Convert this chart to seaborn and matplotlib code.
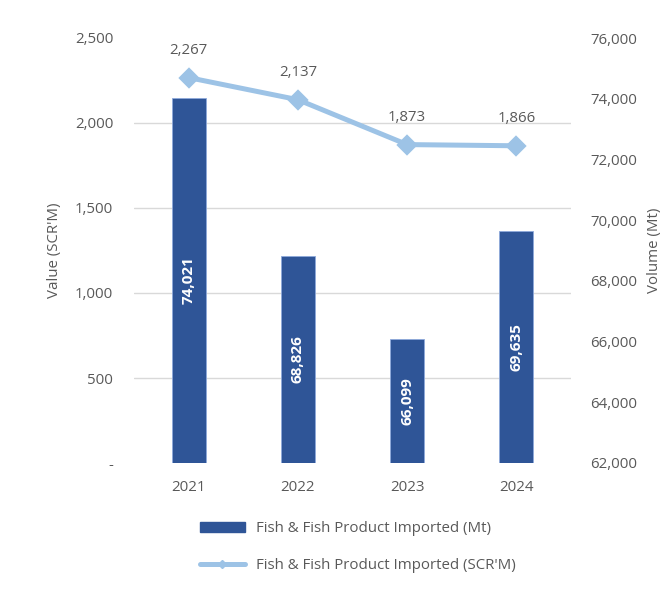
import numpy as np
import matplotlib
matplotlib.use("Agg")
import matplotlib.pyplot as plt
from matplotlib.lines import Line2D
from matplotlib.ticker import FuncFormatter
import seaborn as sns

# Data
years = ["2021", "2022", "2023", "2024"]
volume_mt = [74021, 68826, 66099, 69635]
value_scr = [2267, 2137, 1873, 1866]

bar_color = "#2F5597"
line_color = "#9DC3E6"
text_color = "#595959"
grid_color = "#D9D9D9"

sns.set_style("white")
plt.rcParams["font.family"] = ["Open Sans", "DejaVu Sans"]
plt.rcParams["font.size"] = 10.8

fig = plt.figure(figsize=(6.68, 5.90), dpi=100)
ax = fig.add_axes([134 / 668, 1 - 463 / 590, (571 - 134) / 668, (463 - 38) / 590])
ax2 = ax.twinx()

# Bars: volume on right axis
sns.barplot(x=years, y=volume_mt, ax=ax2, color=bar_color, width=0.31,
            saturation=1, edgecolor="#8EA9DB", linewidth=0.6)
ax2.set_ylim(62000, 76000)
ax2.set_yticks(np.arange(62000, 76001, 2000))
ax2.yaxis.set_major_formatter(FuncFormatter(lambda v, p: f"{v:,.0f}"))
ax2.set_ylabel("Volume (Mt)", color=text_color, fontsize=10.8, labelpad=7)
ax2.bar_label(ax2.containers[0], labels=[f"{v:,}" for v in volume_mt],
              label_type="center", rotation=90, color="white",
              fontweight="bold", fontsize=11)

# Line: value on left axis
sns.pointplot(x=years, y=value_scr, ax=ax, color=line_color, markers="D",
              markersize=8, linewidth=3.6)
ax.set_ylim(0, 2500)
ax.set_yticks(np.arange(0, 2501, 500))
ax.yaxis.set_major_formatter(FuncFormatter(lambda v, p: "-" if v == 0 else f"{v:,.0f}"))
ax.set_ylabel("Value (SCR'M)", color=text_color, fontsize=10.8, labelpad=9)
ax.set_xlabel("")
ax.set_xlim(-0.5, len(years) - 0.5)
for i, v in enumerate(value_scr):
    ax.annotate(f"{v:,}", (i, v), xytext=(0, 14), textcoords="offset points",
                ha="center", va="bottom", color=text_color, fontsize=10.8)

# Line axis above the bars
ax.set_zorder(ax2.get_zorder() + 1)
ax.patch.set_visible(False)

# Gridlines at the left-axis ticks, drawn behind the bars
grid_pos = np.interp(ax.get_yticks(), ax.get_ylim(), ax2.get_ylim())
ax2.set_yticks(grid_pos, minor=True)
ax2.yaxis.grid(True, which="minor", color=grid_color, linewidth=1)
ax2.set_axisbelow(True)
ax2.tick_params(which="minor", length=0)

for a in (ax, ax2):
    for s in a.spines.values():
        s.set_visible(False)
    a.tick_params(axis="both", length=0, colors=text_color, labelsize=10.8)
ax.tick_params(axis="y", pad=15)
ax.tick_params(axis="x", pad=12)
ax2.tick_params(axis="y", pad=14)

handles = [
    plt.Rectangle((0, 0), 1, 1, color=bar_color),
    Line2D([], [], color=line_color, lw=3.6, marker="D", markersize=4.5),
]
labels = ["Fish & Fish Product Imported (Mt)", "Fish & Fish Product Imported (SCR'M)"]
fig.legend(handles, labels, loc="center", bbox_to_anchor=(358 / 668, 1 - 547 / 590),
           frameon=False, labelspacing=1.45, handlelength=3.0, handletextpad=0.75,
           fontsize=10.8, labelcolor=text_color)

fig.savefig("out.png", dpi=100)
